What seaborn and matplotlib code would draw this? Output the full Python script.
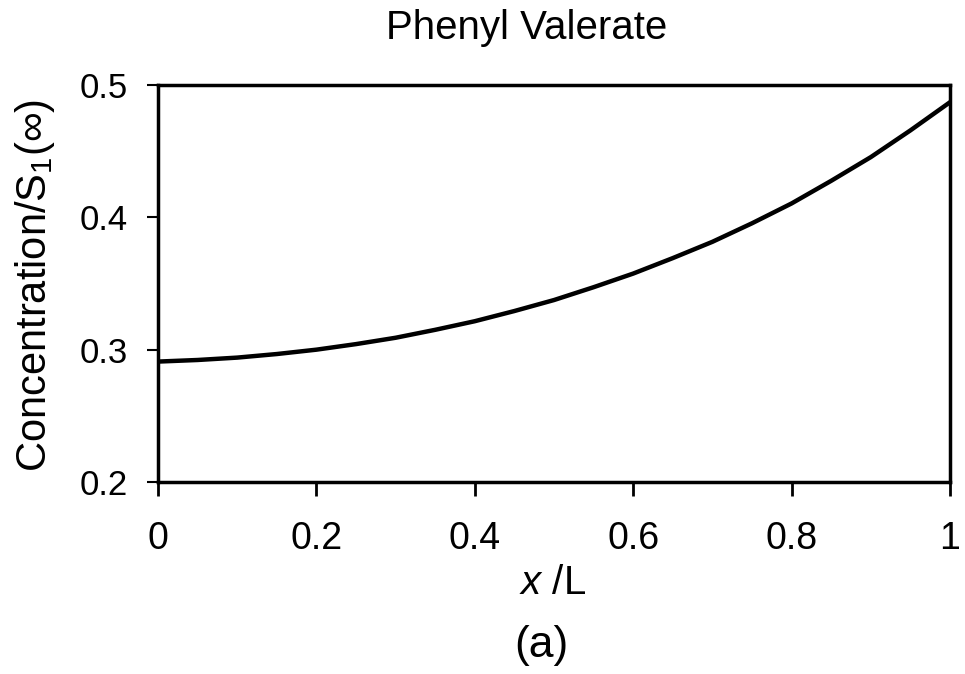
import matplotlib
matplotlib.use("Agg")
import matplotlib.pyplot as plt
import seaborn as sns
import pandas as pd

x_pos = [0.0, 0.05, 0.1, 0.15, 0.2, 0.25, 0.3, 0.35, 0.4, 0.45, 0.5,
         0.55, 0.6, 0.65, 0.7, 0.75, 0.8, 0.85, 0.9, 0.95, 1.0]
conc = [0.291, 0.2922, 0.294, 0.2967, 0.300, 0.3042, 0.309, 0.315, 0.3215, 0.3292, 0.3375,
        0.3472, 0.3575, 0.3692, 0.3815, 0.3955, 0.4105, 0.4276, 0.4455, 0.4657, 0.487]
x_ticks = [0, 0.2, 0.4, 0.6, 0.8, 1]
x_tick_labels = ["0", "0.2", "0.4", "0.6", "0.8", "1"]
y_ticks = [0.2, 0.3, 0.4, 0.5]
y_tick_labels = ["0.2", "0.3", "0.4", "0.5"]

sns.set_theme(style="white")
plt.rcParams['font.family'] = ['Liberation Sans', 'DejaVu Sans']
plt.rcParams['mathtext.fontset'] = 'custom'
plt.rcParams['mathtext.rm'] = 'Liberation Sans'
plt.rcParams['mathtext.it'] = 'Liberation Sans:italic'
plt.rcParams['text.color'] = 'black'

df = pd.DataFrame({"x": x_pos, "c": conc})

fig = plt.figure(figsize=(9.65, 6.74), dpi=100)
ax = fig.add_axes([158/965, 1-482/674, (950-158)/965, (482-85)/674])
sns.lineplot(data=df, x="x", y="c", ax=ax, color="black", linewidth=3.2)

ax.set_xlim(0, 1)
ax.set_ylim(0.2, 0.5)
ax.set_xticks(x_ticks)
ax.set_xticklabels(x_tick_labels, fontsize=27)
ax.set_yticks(y_ticks)
ax.set_yticklabels(y_tick_labels, fontsize=25)
ax.tick_params(axis='x', direction='out', length=10, width=2, pad=18, colors='black', bottom=True)
ax.tick_params(axis='y', direction='out', length=8, width=1.5, pad=14, colors='black', left=True)
for s in ax.spines.values():
    s.set_color('black')
    s.set_linewidth(2.5)
ax.set_xlabel("")
ax.set_ylabel("")

fig.text(527/965, 1-28/674, "Phenyl Valerate", ha='center', va='center', fontsize=29)
fig.text(35/965, 1-285/674, "Concentration/S$_{1}$(∞)", rotation=90, ha='center', va='center', fontsize=30)
fig.text(553/965, 1-583/674, "$x$ /L", ha='center', va='center', fontsize=29)
fig.text(541/965, 1-646/674, "(a)", ha='center', va='center', fontsize=32)

fig.savefig("out.png", dpi=100, facecolor='white')
